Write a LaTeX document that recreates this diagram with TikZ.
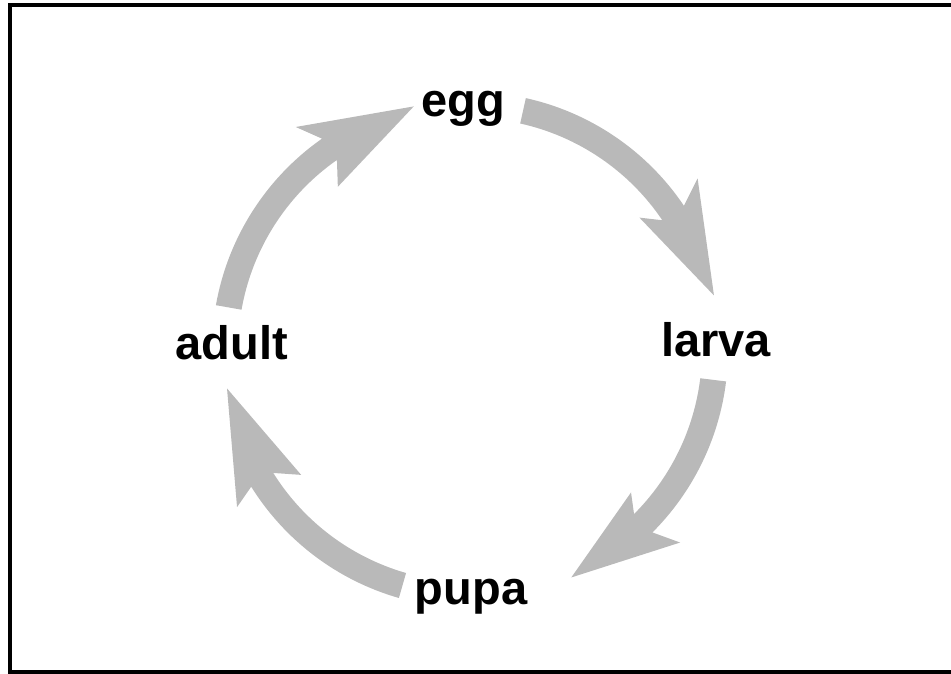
\documentclass[tikz,border=0pt]{standalone}
\usepackage{fontspec}
\setmainfont{Liberation Sans}
\tikzset{
  cyc/.style={fill=gray!55, draw=none},
  stage/.style={font=\fontsize{47}{50}\selectfont\bfseries, inner sep=0pt, anchor=base},
  frame/.style={draw=black, line width=4pt}
}
\begin{document}
\begin{tikzpicture}[x=1pt,y=1pt]
\useasboundingbox (0,0) rectangle (951,674);
\clip (0,0) rectangle (951,674);
\draw[frame] (9.5,669) rectangle (960,1.5);
% stage labels
\node[stage] (egg) at (463,557) {egg};
\node[stage] (larva) at (716,317.5) {larva};
\node[stage] (adult) at (232,314) {adult};
\node[stage] (pupa) at (471,69) {pupa};
\begin{scope}[shift={(470,324)}]
% adult -> egg
\fill[cyc] (170:258) arc[start angle=170,end angle=125,radius=258]
  -- (128:283) -- (103:250) -- (129:210) -- (125:232)
  arc[start angle=125,end angle=170,radius=232] -- cycle;
% egg -> larva
\fill[cyc] (77.5:258) arc[start angle=77.5,end angle=34,radius=258]
  -- (37:285) -- (12.6:250) -- (38:215) -- (34:232)
  arc[start angle=34,end angle=77.5,radius=232] -- cycle;
% larva -> pupa
\fill[cyc] (-7:258) arc[start angle=-7,end angle=-45,radius=258]
  -- (-42.5:285) -- (-66:249) -- (-41.5:215) -- (-45:232)
  arc[start angle=-45,end angle=-7,radius=232] -- cycle;
% pupa -> adult
\fill[cyc] (-106:258) arc[start angle=-106,end angle=-148,radius=258]
  -- (-146:281) -- (-171:246) -- (-143.5:210) -- (-148:232)
  arc[start angle=-148,end angle=-106,radius=232] -- cycle;
\end{scope}
\end{tikzpicture}
\end{document}
